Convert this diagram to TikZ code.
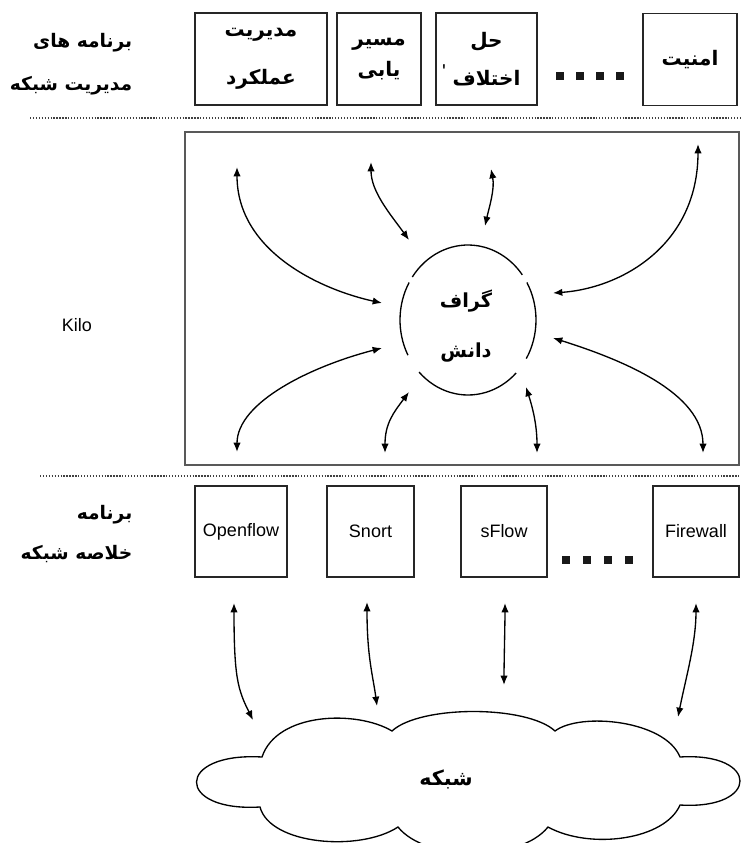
\documentclass[tikz,border=0pt]{standalone}
\usepackage{fontspec}
\setmainfont{Liberation Sans}
\newfontfamily\arabicfont[Script=Arabic]{DejaVu Sans}
\TeXXeTstate=1
\usetikzlibrary{arrows.meta}
\newcommand{\fa}[1]{\beginR #1\endR}

\begin{document}
\begin{tikzpicture}[
  x=0.75pt, y=-0.75pt,
  font=\fontsize{13.5}{16}\selectfont,
  box/.style={rectangle, draw=black!85, line width=1.1pt, inner sep=0pt, align=center},
  app/.style={box, minimum height=69pt, font=\arabicfont\bfseries\fontsize{15}{17}\selectfont},
  tool/.style={box, minimum width=64.5pt, minimum height=68.25pt},
  falabel/.style={align=right, font=\arabicfont\bfseries\fontsize{14}{17}\selectfont},
  dot/.style={rectangle, fill=black!90, minimum size=6pt, inner sep=0pt},
  sep/.style={draw=black!75, line width=0.9pt, dash pattern=on 1pt off 1.2pt},
  arr/.style={{Latex[length=7pt,width=5.5pt]}-{Latex[length=7pt,width=5.5pt]}, line width=1pt}
]
\useasboundingbox (0,0) rectangle (741,843);

% management applications
\node[falabel, anchor=east] (applbl) at (137,64) {\fa{برنامه های}\\[15pt]\fa{مدیریت شبکه}};
\node[app, minimum width=99pt] (perf) at (261,59) {\fa{مدیریت}\\[19pt]\fa{عملکرد}};
\node[app, minimum width=63pt] (route) at (379,59) {\fa{مسیر}\\[6pt]\fa{یابی}};
\node[app, minimum width=75.75pt] (conf) at (486.5,59) {\fa{حل}\\[12pt]\fa{اختلاف}};
\node[font=\fontsize{15}{15}\selectfont] (conftick) at (444,72) {\textquotesingle};
\node[dot] (td1) at (560,76) {};
\node[dot] (td2) at (580,76) {};
\node[dot] (td3) at (600,76) {};
\node[dot] (td4) at (620,76) {};
\node[app, minimum width=70.5pt] (sec) at (690,59.5) {\fa{امنیت}};

\coordinate (sep1l) at (30,118);
\coordinate (sep1r) at (741,118);
\draw[sep] (sep1l) -- (sep1r);

% Kilo layer
\node (kilolbl) at (77,325) {Kilo};
\node[draw=black!65, line width=1.4pt, minimum width=415.5pt, minimum height=249.75pt] (kilo) at (462,298.5) {};
\coordinate (kgc) at (468,320);
\node[align=center, font=\arabicfont\bfseries\fontsize{14.5}{17}\selectfont] (kg) at (466,326) {\fa{گراف}\\[21pt]\fa{دانش}};
\draw[line width=1pt] (kgc) ++({68*cos(330)},{75*sin(330)}) arc[start angle=330, end angle=391, x radius=68, y radius=75];
\draw[line width=1pt] (kgc) ++({68*cos(45)},{75*sin(45)}) arc[start angle=45, end angle=136, x radius=68, y radius=75];
\draw[line width=1pt] (kgc) ++({68*cos(152)},{75*sin(152)}) arc[start angle=152, end angle=210, x radius=68, y radius=75];
\draw[line width=1pt] (kgc) ++({68*cos(215)},{75*sin(215)}) arc[start angle=215, end angle=323, x radius=68, y radius=75];

% links to the applications
\coordinate (a1s) at (237,167); \coordinate (a1e) at (382,303);
\coordinate (a2s) at (371,162); \coordinate (a2e) at (409,240);
\coordinate (a3s) at (491,169); \coordinate (a3e) at (485,226);
\coordinate (a4s) at (698,144); \coordinate (a4e) at (553,293);
\draw[arr] (a1s) .. controls +(0,85) and +(-60,-13) .. (a1e);
\draw[arr] (a2s) .. controls +(0,30) and +(-18,-25) .. (a2e);
\draw[arr] (a3s) .. controls +(4,20) and +(4,-18) .. (a3e);
\draw[arr] (a4s) .. controls +(0,100) and +(70,-5) .. (a4e);

% links to the abstraction layer
\coordinate (b1s) at (382,348); \coordinate (b1e) at (237,452);
\coordinate (b2s) at (409,392); \coordinate (b2e) at (385,453);
\coordinate (b3s) at (526,387); \coordinate (b3e) at (537,453);
\coordinate (b4s) at (553,338); \coordinate (b4e) at (703,453);
\draw[arr] (b1s) .. controls +(-70,18) and +(0,-50) .. (b1e);
\draw[arr] (b2s) .. controls +(-15,20) and +(0,-30) .. (b2e);
\draw[arr] (b3s) .. controls +(8,25) and +(0,-25) .. (b3e);
\draw[arr] (b4s) .. controls +(70,22) and +(0,-60) .. (b4e);

\coordinate (sep2l) at (40,476);
\coordinate (sep2r) at (741,476);
\draw[sep] (sep2l) -- (sep2r);

% network abstraction programs
\node[falabel, anchor=east] (abslbl) at (137,534) {\fa{برنامه}\\[13pt]\fa{خلاصه شبکه}};
\node[tool, minimum width=69pt] (of) at (241,531.5) {Openflow};
\node[tool, minimum width=65.25pt] (snort) at (370.5,531.5) {Snort};
\node[tool] (sflow) at (504,531.5) {sFlow};
\node[dot] (bd1) at (566,560) {};
\node[dot] (bd2) at (587,560) {};
\node[dot] (bd3) at (608,560) {};
\node[dot] (bd4) at (629,560) {};
\node[tool] (fw) at (696,531.5) {Firewall};

% network cloud
\draw[line width=1pt] (262,757) .. controls (277,712) and (357,710) .. (392,731)
  .. controls (420,705) and (527,705) .. (555,731)
  .. controls (580,712) and (665,720) .. (680,757)
  .. controls (760,752) and (760,810) .. (680,805)
  .. controls (665,840) and (590,850) .. (548,827)
  .. controls (520,862) and (426,862) .. (398,827)
  .. controls (360,852) and (270,845) .. (260,807)
  .. controls (175,812) and (175,752) .. cycle;
\node[font=\arabicfont\bfseries\fontsize{15.5}{17}\selectfont] (net) at (446,779) {\fa{شبکه}};

\coordinate (c1s) at (234,603); \coordinate (c1e) at (253,720);
\coordinate (c2s) at (367,602); \coordinate (c2e) at (377,706);
\coordinate (c3s) at (505,603); \coordinate (c3e) at (504,685);
\coordinate (c4s) at (696,603); \coordinate (c4e) at (678,717);
\draw[arr] (c1s) .. controls +(0,75) and +(-15,-30) .. (c1e);
\draw[arr] (c2s) .. controls +(0,55) and +(-4,-30) .. (c2e);
\draw[arr] (c3s) .. controls +(0,20) and +(0,-20) .. (c3e);
\draw[arr] (c4s) .. controls +(0,40) and +(8,-40) .. (c4e);
\end{tikzpicture}
\end{document}
